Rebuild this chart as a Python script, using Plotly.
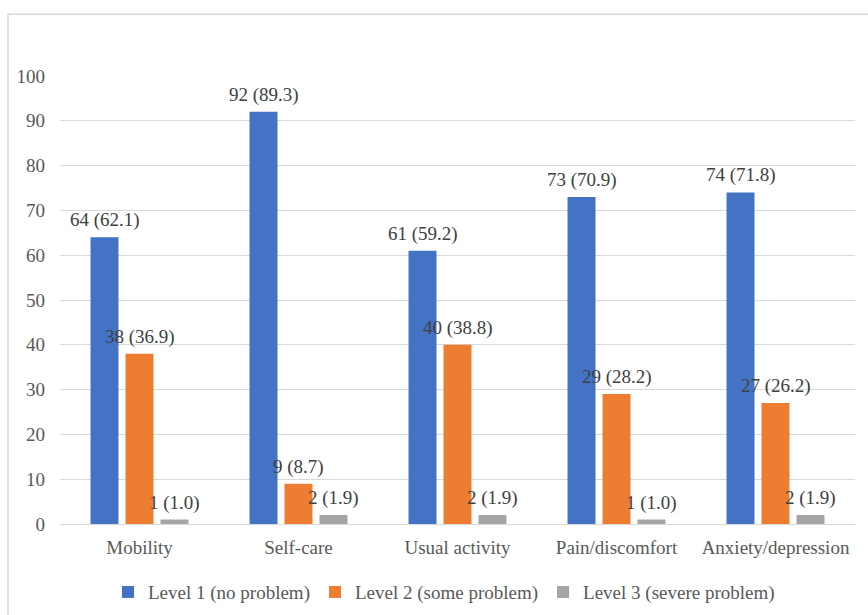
import plotly.graph_objects as go

categories = ["Mobility", "Self-care", "Usual activity", "Pain/discomfort", "Anxiety/depression"]
series_names = ["Level 1 (no problem)", "Level 2 (some problem)", "Level 3 (severe problem)"]
level1 = [64, 92, 61, 73, 74]
level2 = [38, 9, 40, 29, 27]
level3 = [1, 2, 2, 1, 2]
pct1 = ["62.1", "89.3", "59.2", "70.9", "71.8"]
pct2 = ["36.9", "8.7", "38.8", "28.2", "26.2"]
pct3 = ["1.0", "1.9", "1.9", "1.0", "1.9"]
colors = ["#4472C4", "#ED7D31", "#A5A5A5"]
y_ticks = [0, 10, 20, 30, 40, 50, 60, 70, 80, 90, 100]

FONT = "Times New Roman, Liberation Serif, serif"
FS = 19

fig = go.Figure()
annotations = []
slot_px = 35
for i, (name, vals, pcts, col) in enumerate(zip(series_names, [level1, level2, level3], [pct1, pct2, pct3], colors)):
    fig.add_trace(go.Bar(
        x=categories, y=vals, name=name,
        marker=dict(color=col, line=dict(width=0)),
    ))
    for c, v, p in zip(categories, vals, pcts):
        annotations.append(dict(
            x=c, y=v, xref="x", yref="y", text=f"{v} ({p})", showarrow=False,
            yanchor="bottom", yshift=4, xshift=(i - 1) * slot_px,
            font=dict(family=FONT, size=FS, color="#404040"),
        ))

fig.update_layout(
    width=868, height=615,
    margin=dict(l=60, r=13, t=76, b=91, autoexpand=False),
    paper_bgcolor="white", plot_bgcolor="white",
    barmode="group", bargap=0.34, bargroupgap=0.2,
    font=dict(family=FONT, size=FS, color="#595959"),
    showlegend=True,
    legend=dict(orientation="h", x=0.483, xanchor="center", y=-0.152, yanchor="middle",
                font=dict(family=FONT, size=FS, color="#595959"),
                traceorder="normal"),
    xaxis=dict(showgrid=False, showline=True, linecolor="#d9d9d9", linewidth=1,
               ticks="", tickfont=dict(family=FONT, size=FS, color="#595959"),
               ticklabelstandoff=6, automargin=False),
    yaxis=dict(range=[0, 100], tickvals=y_ticks, showgrid=True, gridcolor="#d9d9d9",
               gridwidth=1, zeroline=False, showline=False, ticks="", automargin=False,
               tickfont=dict(family=FONT, size=FS, color="#595959"), ticklabelstandoff=14),
    annotations=annotations,
    shapes=[dict(type="rect", xref="paper", yref="paper",
                 x0=-0.0654, x1=1.03, y0=-0.25, y1=1.138,
                 line=dict(color="#d9d9d9", width=1.5), fillcolor="rgba(0,0,0,0)", layer="below")],
)

fig.write_html("out.html")
